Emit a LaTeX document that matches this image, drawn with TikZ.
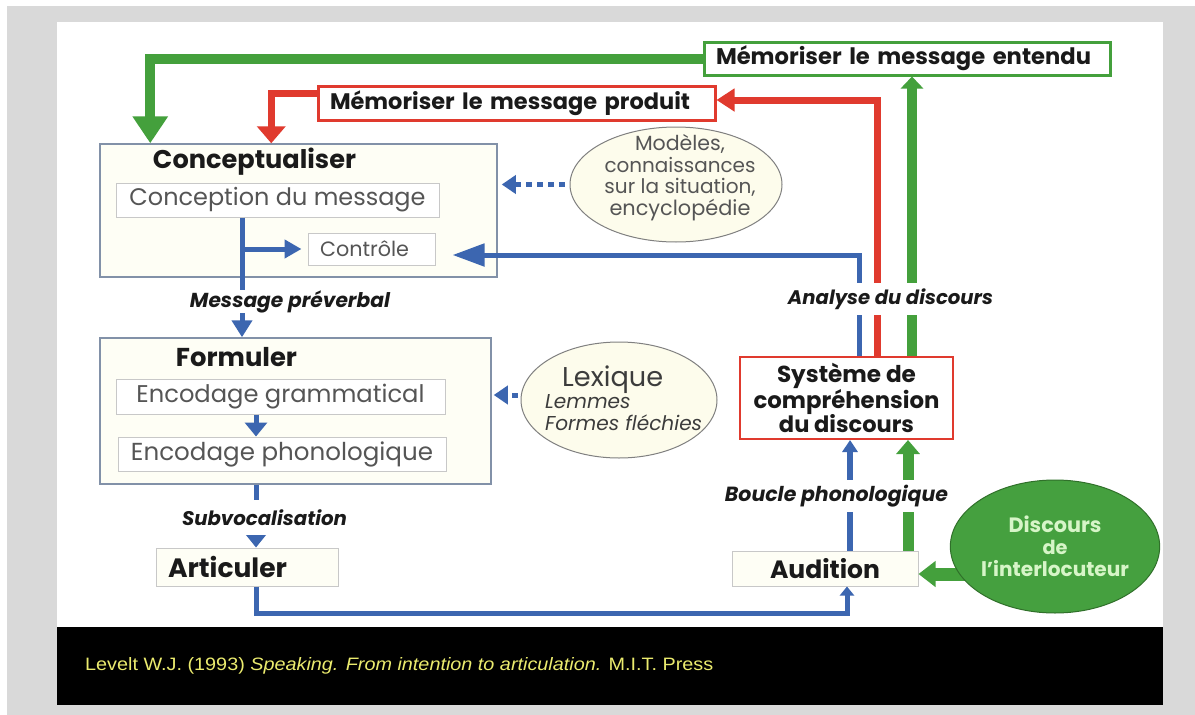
\documentclass[tikz,border=0pt]{standalone}
\usepackage{fontspec}
\setmainfont{Poppins}
\newfontfamily\citefont{Liberation Sans}
\usetikzlibrary{arrows.meta,shapes.geometric}
\definecolor{bgc}{RGB}{217,217,217}
\definecolor{gr}{RGB}{68,160,60}
\definecolor{rd}{RGB}{224,58,46}
\definecolor{bl}{RGB}{60,102,176}
\definecolor{boxline}{RGB}{130,145,168}
\definecolor{boxfill}{RGB}{254,254,245}
\definecolor{inline}{RGB}{200,200,200}
\definecolor{txtgray}{RGB}{85,85,85}
\definecolor{lexgray}{RGB}{60,60,60}
\definecolor{ellfill}{RGB}{253,252,236}
\definecolor{ellline}{RGB}{128,128,128}
\definecolor{circfill}{RGB}{69,160,63}
\definecolor{circtxt}{RGB}{215,245,200}
\definecolor{citec}{RGB}{235,235,110}
\definecolor{ink}{RGB}{26,26,26}
\newcommand\fw[2]{\resizebox{#1pt}{!}{#2}}
\newsavebox\ffbox
\begin{document}
\sbox\ffbox{\fontsize{16}{21}\selectfont\itshape Formes fléchies}%
\pgfmathsetmacro\ffscale{157/\wd\ffbox}%
\begin{tikzpicture}[x=1pt,y=-1pt,
  bigbox/.style={draw=boxline, line width=1.5pt, fill=boxfill, inner sep=0pt},
  inbox/.style={draw=inline, line width=1pt, fill=white, text=txtgray, inner sep=0pt},
  smallbox/.style={draw=inline, line width=1pt, fill=boxfill, text=ink, inner sep=0pt},
  titletext/.style={inner sep=0pt, text=ink, font=\bfseries},
  lab/.style={fill=white, text=ink, font=\bfseries\itshape, inner xsep=2pt, inner ysep=0pt},
  ell/.style={ellipse, draw=ellline, line width=1pt, fill=ellfill, inner sep=0pt},
  bluearrow/.style={draw=bl, line width=5pt},
  dotarrow/.style={draw=bl, line width=5pt, dash pattern=on 6pt off 5pt, -{Triangle[length=14pt,width=18pt]}}
]
\useasboundingbox (0,0) rectangle (1195,715);
\fill[white] (0,0) rectangle (1195,715);
\fill[bgc] (7,6) rectangle (1195,715);
\fill[white] (57,22) rectangle (1163,627);
\fill[black] (57,627) rectangle (1163,705);

% boxes
\node[bigbox, minimum width=397pt, minimum height=133pt] (concept) at (298.5,210.5) {};
\node[titletext] (conctitle) at (254.5,162) {\fw{203}{Conceptualiser}};
\node[inbox, minimum width=323pt, minimum height=34pt] (concep) at (277.5,200) {\fw{296}{Conception du message}};
\node[inbox, minimum width=127pt, minimum height=32pt, text width=103pt, align=left, inner xsep=12pt] (controle) at (371.5,249) {\fw{89}{Contrôle}};

\node[bigbox, minimum width=391pt, minimum height=146pt] (formuler) at (295.5,411) {};
\node[titletext] (formtitle) at (236.5,357) {\fw{121}{Formuler}};
\node[inbox, minimum width=329pt, minimum height=35pt] (encg) at (280.5,396.5) {\fw{288}{Encodage grammatical}};
\node[inbox, minimum width=328pt, minimum height=34pt] (encp) at (282,454) {\fw{302}{Encodage phonologique}};

\node[smallbox, minimum width=182pt, minimum height=38pt, text width=158pt, align=left, inner xsep=12pt] (artic) at (247,567) {\fw{119}{\bfseries Articuler}};
\node[smallbox, minimum width=186pt, minimum height=35pt] (audition) at (825,568.5) {\fw{110}{\bfseries Audition}};

\node[draw=rd, line width=2pt, fill=white, text=ink, minimum width=213pt, minimum height=82pt, align=center, inner sep=0pt, font=\fontsize{18}{24.5}\selectfont\bfseries] (systeme) at (846.5,398) {\fw{139}{Système de}\\\fw{186}{compréhension}\\\fw{135}{du discours}};

\node[draw=gr, line width=3pt, fill=white, text=ink, minimum width=406pt, minimum height=33pt, text width=382pt, inner xsep=12pt, inner ysep=0pt, align=left] (mement) at (907,58.5) {\fw{375}{\bfseries Mémoriser le message entendu}};
\node[draw=rd, line width=3pt, fill=white, text=ink, minimum width=397pt, minimum height=34pt, text width=373pt, inner xsep=12pt, inner ysep=0pt, align=left] (memprod) at (516.5,103) {\fw{360}{\bfseries Mémoriser le message produit}};

% ellipses
\node[ell, minimum width=212pt, minimum height=115pt] (modeles) at (676,184.5) {};
\node[align=center, inner sep=0pt, font=\fontsize{16}{21.5}\selectfont, text=txtgray] (modtxt) at (680,177.5) {\fw{90}{Modèles,}\\\fw{151}{connaissances}\\\fw{151}{sur la situation,}\\\fw{141}{encyclopédie}};
\node[ell, minimum width=196pt, minimum height=116pt] (lexique) at (619,400) {};
\node[align=left, anchor=west, inner sep=0pt, font=\fontsize{16}{22}\selectfont, text=lexgray] (lextxt) at (545,398) {\hspace*{17pt}\fw{101}{Lexique}\\\scalebox{\ffscale}{\itshape Lemmes}\\\scalebox{\ffscale}{\itshape Formes fléchies}};

% connectors
\draw[bluearrow, -{Triangle[length=17pt,width=20pt]}] ([xshift=-35.5pt]concep.south) -- ([xshift=-35.5pt]concep.south |- formuler.north);
\draw[bluearrow, -{Triangle[length=17pt,width=18pt]}] ([xshift=-35.5pt]concep.south |- controle.west) -- ([xshift=-6pt]controle.west);
\draw[bluearrow, -{Triangle[length=14pt,width=22pt]}] ([xshift=-24.5pt]encg.south) -- ([xshift=-24.5pt]encg.south |- encp.north);
\draw[bluearrow, -{Triangle[length=13pt,width=20pt]}] ([xshift=-39.5pt]formuler.south) -- ([xshift=-39.5pt]formuler.south |- artic.north);
\draw[bluearrow, -{Triangle[length=9pt,width=14pt]}] ([xshift=9pt]artic.south) -- ++(0,27) -| ([xshift=22pt]audition.south);
\draw[bluearrow, line width=6pt, -{Triangle[length=12pt,width=15pt]}] ([xshift=25pt]audition.north) -- ([xshift=25pt]audition.north |- systeme.south);
\draw[gr, line width=11pt, -{Triangle[length=14pt,width=23pt]}] ([xshift=83pt]audition.north) -- ([xshift=83pt]audition.north |- systeme.south);

\draw[bluearrow, -{Triangle[length=32pt,width=22pt]}] ([xshift=12.5pt]systeme.north) |- ([xshift=17pt,yshift=-6pt]controle.east);
\draw[rd, line width=7pt, -{Triangle[length=18pt,width=22pt]}] ([xshift=30.5pt]systeme.north) |- ([yshift=3pt]memprod.east);
\draw[gr, line width=10pt, -{Triangle[length=12pt,width=22pt]}] ([xshift=65.5pt]systeme.north) -- ([xshift=65.5pt]systeme.north |- mement.south);
\draw[gr, line width=10pt, -{Triangle[length=27pt,width=34pt]}] (mement.west) -| ([xshift=51pt]concept.north west);
\draw[rd, line width=7pt, -{Triangle[length=17pt,width=28pt]}] ([yshift=10pt]memprod.west) -| ([xshift=172pt]concept.north west);

\draw[dotarrow] ([xshift=-5pt]modeles.west) -- ([xshift=4pt]concept.east |- modeles.west);
\coordinate (lexin) at ([yshift=5pt]lexique.west);
\draw[dotarrow] ([xshift=-3pt]lexin) -- ([xshift=2pt]formuler.east |- lexin);

\coordinate (dstart) at (985,574);
\draw[gr, line width=13pt, -{Triangle[length=17pt,width=25pt]}] (dstart) -- ([yshift=-5.5pt]audition.east);
\node[ellipse, draw=gr!70!black, line width=1pt, fill=circfill, minimum width=174pt, minimum height=133pt, align=center, text=circtxt, inner sep=0pt, font=\fontsize{16}{22}\selectfont\bfseries] (discours) at (1055,546.5) {\fw{93}{Discours}\\\fw{25}{de}\\\fw{148}{l'interlocuteur}};

% labels
\node[lab, minimum height=17pt] (msgpre) at (290,301.5) {\fw{200}{Message préverbal}};
\node[lab, minimum height=35pt] (subvoc) at (264.5,517.5) {\fw{165}{Subvocalisation}};
\node[lab, minimum height=32pt] (boucle) at (836.5,496) {\fw{223}{Boucle phonologique}};
\node[lab, minimum height=32pt] (analyse) at (890.5,299) {\fw{205}{Analyse du discours}};

\node[anchor=west, inner sep=0pt, text=citec, font=\citefont] (cite) at (85,666) {\resizebox{628pt}{13pt}{Levelt W.J. (1993) \textit{Speaking. From intention to articulation.} M.I.T. Press}};
\end{tikzpicture}
\end{document}
